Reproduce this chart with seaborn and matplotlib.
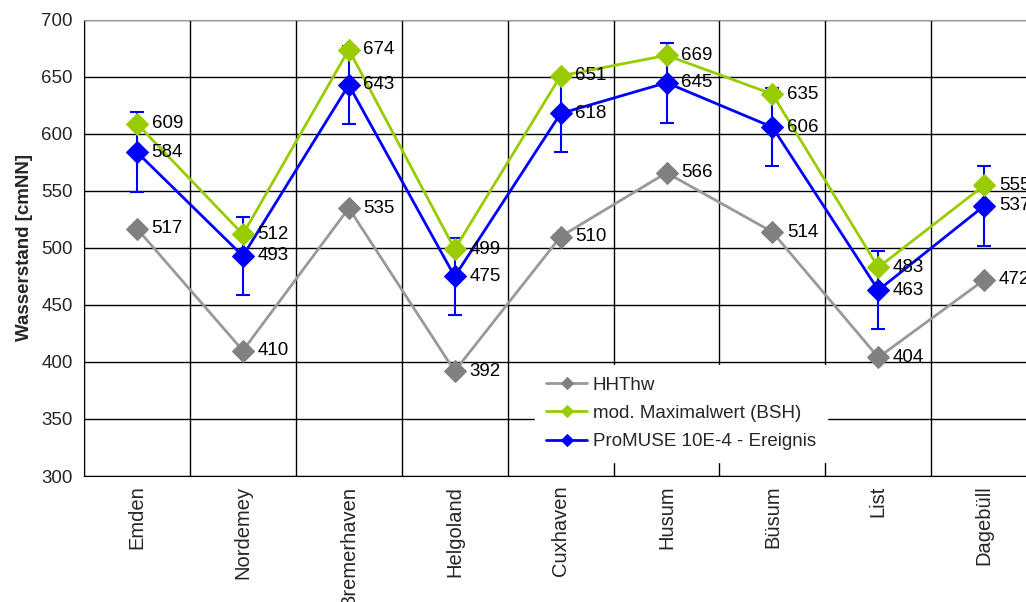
import numpy as np
import matplotlib.pyplot as plt
import seaborn as sns

stations = ['Emden', 'Nordemey', 'Bremerhaven', 'Helgoland', 'Cuxhaven',
            'Husum', 'Büsum', 'List', 'Dagebüll']
hhthw = [517, 410, 535, 392, 510, 566, 514, 404, 472]
bsh_max = [609, 512, 674, 499, 651, 669, 635, 483, 555]
promuse = [584, 493, 643, 475, 618, 645, 606, 463, 537]
promuse_err = [35, 34, 34, 34, 34, 35, 34, 34, 35]

sns.set_style('white')
plt.rcParams['font.family'] = ['Liberation Sans', 'DejaVu Sans']

fig = plt.figure(figsize=(10.26, 6.02), dpi=100)
ax = fig.add_axes([0.0819, 0.2093, 0.929, 0.7575])

x = np.arange(len(stations))
ms = 11
fs = 13.5

sns.lineplot(x=x, y=hhthw, color='#999999', marker='D', markersize=ms,
             markerfacecolor='#808080', markeredgecolor='#808080',
             linewidth=2, ax=ax, zorder=3, label='HHThw')
ax.errorbar(x, promuse, yerr=promuse_err, fmt='none', ecolor='#0000FF',
            elinewidth=1.5, capsize=5, capthick=1.5, zorder=4)
sns.lineplot(x=x, y=promuse, color='#0000FF', marker='D', markersize=ms,
             markeredgecolor='#0000FF', linewidth=2, ax=ax, zorder=5,
             label='ProMUSE 10E-4 - Ereignis')
sns.lineplot(x=x, y=bsh_max, color='#99CC00', marker='D', markersize=ms,
             markeredgecolor='#99CC00', linewidth=2, ax=ax, zorder=6,
             label='mod. Maximalwert (BSH)')

for series in (hhthw, bsh_max, promuse):
    for xi, v in zip(x, series):
        ax.annotate(str(v), (xi, v), xytext=(10.5, 0), textcoords='offset points',
                    ha='left', va='center', fontsize=fs, color='black', zorder=7)

ax.set_xlim(-0.5, len(stations) - 0.5)
ax.set_ylim(300, 700)
ax.set_yticks(np.arange(300, 701, 50))
ax.set_xticks(np.arange(-0.5, len(stations), 1))
ax.set_xticklabels([])
ax.set_xticks(x, minor=True)
ax.set_xticklabels(stations, minor=True, rotation=90, fontsize=14.5)
ax.tick_params(axis='x', which='major', direction='out', length=6, width=1, color='black')
ax.tick_params(axis='x', which='minor', length=0, pad=7)
ax.tick_params(axis='y', direction='out', length=6, width=1, color='black',
               labelsize=fs, pad=2)
ax.grid(True, which='major', color='black', linewidth=1)
ax.set_axisbelow(True)
for s in ['left', 'bottom']:
    ax.spines[s].set_color('black')
ax.spines['top'].set_color('#999999')
ax.set_xlabel('')
ax.set_ylabel('Wasserstand [cmNN]', fontsize=fs, fontweight='bold', labelpad=6)

handles, labels = ax.get_legend_handles_labels()
order = [labels.index('HHThw'), labels.index('mod. Maximalwert (BSH)'),
         labels.index('ProMUSE 10E-4 - Ereignis')]
leg = ax.legend([handles[i] for i in order], [labels[i] for i in order],
                loc='upper left', bbox_to_anchor=(0.473, 0.243), frameon=True,
                fontsize=fs, handlelength=2.2, borderpad=0.6, labelspacing=0.6,
                handletextpad=0.3, borderaxespad=0)
leg.get_frame().set_facecolor('white')
leg.get_frame().set_edgecolor('white')
leg.get_frame().set_alpha(1)
leg.set_zorder(10)
for h in leg.legend_handles:
    h.set_markersize(6)

fig.savefig('out.png', dpi=100)
